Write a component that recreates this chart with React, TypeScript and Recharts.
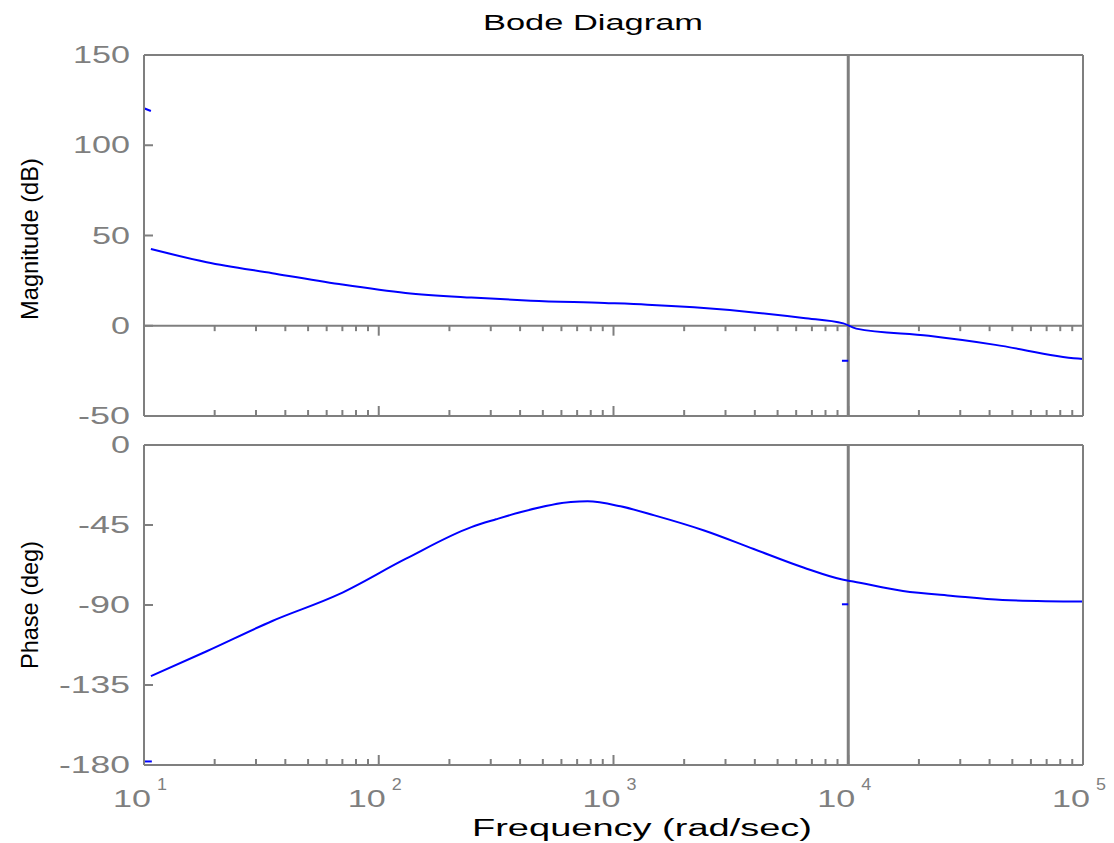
import { LineChart, Line, XAxis, YAxis, ReferenceLine } from "recharts";

const GRAY = "#7f7f7f";
const BLUE = "#0000ff";
const FONT = "'Liberation Sans', Arial, sans-serif";

// frequency axis (rad/sec), log scale
const freqMajor = [10, 100, 1000, 10000, 100000];
const freqExp = ["1", "2", "3", "4", "5"];
const minorMult = [2, 3, 4, 5, 6, 7, 8, 9];
const freqMinor = freqMajor.slice(0, 4).flatMap((d) => minorMult.map((m) => m * d));
const freqTicks = [...freqMajor, ...freqMinor];

const magTicks = [-50, 0, 50, 100, 150];
const phaseTicks = [-180, -135, -90, -45, 0];

// magnitude curve (dB)
const magFreq = [10.7, 18.5, 35.2, 67.8, 130, 248, 445, 916, 1393, 2203, 3956, 6440, 9530, 10810, 22030, 42370, 95300, 100000];
const magDb = [42.5, 35.2, 29.1, 23.1, 18.2, 15.6, 13.9, 12.6, 11.7, 10.2, 7.4, 4.3, 1.3, -1.6, -5.6, -10.6, -18.2, -18.4];

// phase curve (deg)
const phaseFreq = [10.7, 18.5, 35.2, 67.8, 130, 248, 316, 404, 658, 776, 1071, 1494, 2432, 3956, 6440, 9530, 10500, 17100, 27900, 45400, 100000];
const phaseDeg = [-130, -116, -99, -83.9, -64.1, -46.2, -41.8, -37.7, -32.1, -31.7, -34.5, -39.6, -48.1, -58.5, -68.9, -75.8, -76.8, -82.1, -84.9, -87.2, -88.1];

// small stray segments at the edges of each panel
const magStubA = { f: [10, 10.7], v: [120.5, 119] };
const magStubB = { f: [9400, 10000], v: [-19.4, -19.4] };
const phaseStubA = { f: [10, 10.8], v: [-178, -178] };
const phaseStubB = { f: [9400, 10000], v: [-89.6, -89.6] };

const toRows = (f: number[], v: number[]) => f.map((x, i) => ({ f: x, v: v[i] }));

const magData = toRows(magFreq, magDb);
const phaseData = toRows(phaseFreq, phaseDeg);

const labelWidth = (s: string) =>
  s.split("").reduce((w, c) => w + (c === "-" ? 14 : 19), 0);

function FreqTick(props: any) {
  const { x, y, payload, side, showLabel } = props;
  const v = payload.value;
  const i = freqMajor.indexOf(v);
  const len = i >= 0 ? 10 : 6;
  const dir = side === "top" ? 1 : -1;
  return (
    <g>
      <line x1={x} x2={x} y1={y} y2={y + dir * len} stroke={GRAY} strokeWidth={2} />
      {showLabel && i >= 0 && (
        <g fill={GRAY} fontFamily={FONT}>
          <text x={x + 7} y={y + 42} textAnchor="end" fontSize={23} textLength={38} lengthAdjust="spacingAndGlyphs">
            10
          </text>
          <text x={x + 13} y={y + 25} fontSize={17} textLength={10} lengthAdjust="spacingAndGlyphs">
            {freqExp[i]}
          </text>
        </g>
      )}
    </g>
  );
}

function ValueTick(props: any) {
  const { x, y, payload, side } = props;
  const s = String(payload.value);
  if (side === "right") {
    return <line x1={x} x2={x - 12} y1={y} y2={y} stroke={GRAY} strokeWidth={2} />;
  }
  return (
    <g>
      <line x1={x} x2={x + 9} y1={y} y2={y} stroke={GRAY} strokeWidth={2} />
      <text
        x={x - 14}
        y={y + 8}
        textAnchor="end"
        fill={GRAY}
        fontFamily={FONT}
        fontSize={23}
        textLength={labelWidth(s)}
        lengthAdjust="spacingAndGlyphs"
      >
        {s}
      </text>
    </g>
  );
}

function Axes({ yTicks, domain, showLabels }: { yTicks: number[]; domain: [number, number]; showLabels: boolean }) {
  const axisLine = { stroke: GRAY, strokeWidth: 2 };
  return [
    <XAxis
      key="xb"
      xAxisId="b"
      dataKey="f"
      type="number"
      scale="log"
      domain={[10, 100000]}
      ticks={freqTicks}
      interval={0}
      height={1}
      tickSize={0}
      tickMargin={0}
      axisLine={axisLine}
      tick={(p: any) => <FreqTick {...p} side="bottom" showLabel={showLabels} />}
    />,
    <XAxis
      key="xt"
      xAxisId="t"
      orientation="top"
      dataKey="f"
      type="number"
      scale="log"
      domain={[10, 100000]}
      ticks={freqTicks}
      interval={0}
      height={1}
      tickSize={0}
      tickMargin={0}
      axisLine={axisLine}
      tick={(p: any) => <FreqTick {...p} side="top" />}
    />,
    <YAxis
      key="yl"
      yAxisId="l"
      type="number"
      domain={domain}
      ticks={yTicks}
      interval={0}
      width={1}
      tickSize={0}
      tickMargin={0}
      axisLine={axisLine}
      tick={(p: any) => <ValueTick {...p} side="left" />}
    />,
    <YAxis
      key="yr"
      yAxisId="r"
      orientation="right"
      type="number"
      domain={domain}
      ticks={yTicks}
      interval={0}
      width={1}
      tickSize={0}
      tickMargin={0}
      axisLine={axisLine}
      tick={(p: any) => <ValueTick {...p} side="right" />}
    />,
  ];
}

function series(key: string, data: { f: number; v: number }[]) {
  return (
    <Line
      key={key}
      xAxisId="b"
      yAxisId="l"
      data={data}
      dataKey="v"
      type="monotone"
      stroke={BLUE}
      strokeWidth={2}
      dot={false}
      isAnimationActive={false}
    />
  );
}

export default function App() {
  return (
    <div style={{ position: "absolute", left: 0, top: 0, width: 1114, height: 843, background: "#fff" }}>
      <div style={{ position: "absolute", left: 0, top: 0 }}>
        <LineChart width={1114} height={430} margin={{ top: 54, right: 30, bottom: 13, left: 143 }}>
          {Axes({ yTicks: magTicks, domain: [-50, 150], showLabels: false })}
          <ReferenceLine xAxisId="b" yAxisId="l" y={0} stroke={GRAY} strokeWidth={2} />
          {freqTicks.map((f) => (
            <ReferenceLine
              key={f}
              xAxisId="b"
              yAxisId="l"
              segment={[
                { x: f, y: 0 },
                { x: f, y: freqMajor.includes(f) ? -5.5 : -3 },
              ]}
              stroke={GRAY}
              strokeWidth={2}
            />
          ))}
          <ReferenceLine xAxisId="b" yAxisId="l" x={10000} stroke={GRAY} strokeWidth={3} />
          {series("mag", magData)}
          {series("magA", toRows(magStubA.f, magStubA.v))}
          {series("magB", toRows(magStubB.f, magStubB.v))}
        </LineChart>
      </div>
      <div style={{ position: "absolute", left: 0, top: 430 }}>
        <LineChart width={1114} height={413} margin={{ top: 14, right: 30, bottom: 77, left: 143 }}>
          {Axes({ yTicks: phaseTicks, domain: [-180, 0], showLabels: true })}
          <ReferenceLine xAxisId="b" yAxisId="l" x={10000} stroke={GRAY} strokeWidth={3} />
          {series("phase", phaseData)}
          {series("phA", toRows(phaseStubA.f, phaseStubA.v))}
          {series("phB", toRows(phaseStubB.f, phaseStubB.v))}
        </LineChart>
      </div>
      <svg
        width={1114}
        height={843}
        style={{ position: "absolute", left: 0, top: 0, pointerEvents: "none" }}
        fontFamily={FONT}
        fill="#000"
      >
        <text x={593} y={30} textAnchor="middle" fontSize={22} textLength={220} lengthAdjust="spacingAndGlyphs">
          Bode Diagram
        </text>
        <text x={642} y={836} textAnchor="middle" fontSize={23} textLength={340} lengthAdjust="spacingAndGlyphs">
          Frequency  (rad/sec)
        </text>
        <text
          x={38}
          y={239}
          textAnchor="middle"
          fontSize={24}
          textLength={162}
          lengthAdjust="spacingAndGlyphs"
          transform="rotate(-90 38 239)"
        >
          Magnitude (dB)
        </text>
        <text
          x={38}
          y={605}
          textAnchor="middle"
          fontSize={24}
          textLength={128}
          lengthAdjust="spacingAndGlyphs"
          transform="rotate(-90 38 605)"
        >
          Phase (deg)
        </text>
      </svg>
    </div>
  );
}
